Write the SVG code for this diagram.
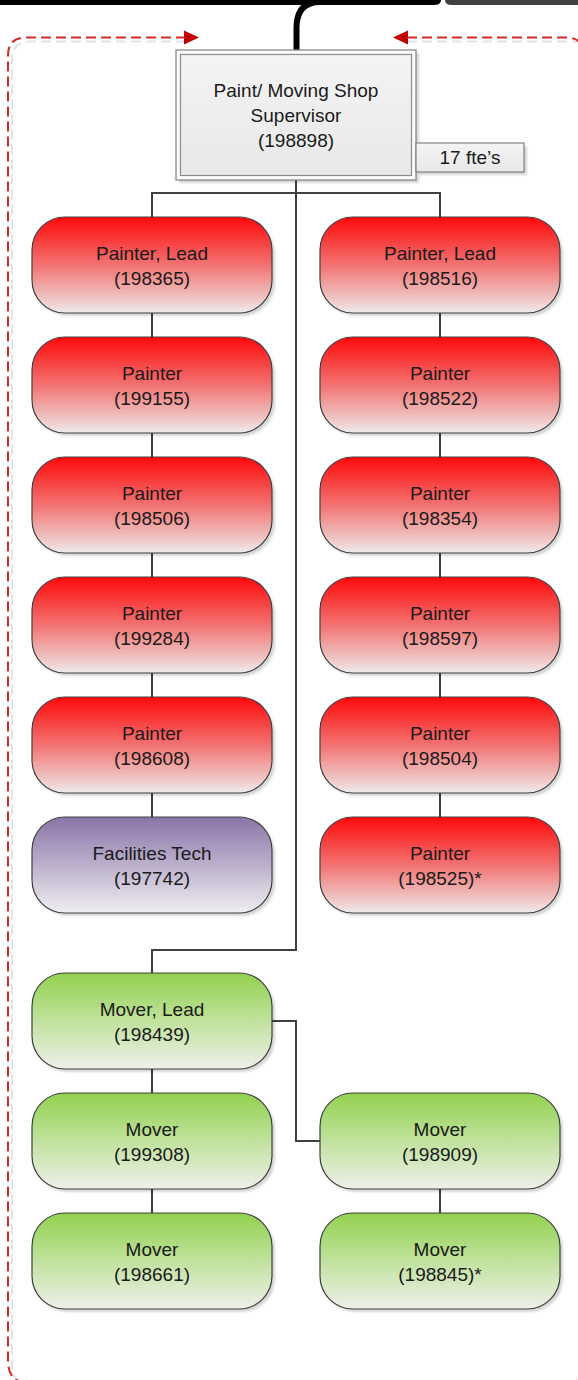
<svg xmlns="http://www.w3.org/2000/svg" width="578" height="1380" viewBox="0 0 578 1380">
  <style>
    .lbl { font-family: "Liberation Sans", Arial, sans-serif; font-size: 19px; fill: #1a1a1a; text-anchor: middle; }
    .box { stroke: #404040; stroke-width: 1.2; }
    .red { fill: url(#gRed); }
    .green { fill: url(#gGreen); }
    .purple { fill: url(#gPurple); }
    .shadow { fill: #000; opacity: 0.16; filter: url(#soft); }
    .conn { fill: none; stroke: #404040; stroke-width: 2; }
    .frame { fill: none; stroke: #d42a2a; stroke-width: 2; stroke-dasharray: 10 5; }
    .frameShadow { fill: none; stroke: #e4e4e4; stroke-width: 2; stroke-dasharray: 10 5; }
  </style>
  <defs>
    <linearGradient id="gRed" x1="0" y1="0" x2="0" y2="1">
      <stop offset="0" stop-color="#ff0a0a"/>
      <stop offset="0.5" stop-color="#f27272"/>
      <stop offset="1" stop-color="#efeaea"/>
    </linearGradient>
    <linearGradient id="gGreen" x1="0" y1="0" x2="0" y2="1">
      <stop offset="0" stop-color="#92d050"/>
      <stop offset="0.5" stop-color="#c0e29c"/>
      <stop offset="1" stop-color="#eef0ec"/>
    </linearGradient>
    <linearGradient id="gPurple" x1="0" y1="0" x2="0" y2="1">
      <stop offset="0" stop-color="#8a74a8"/>
      <stop offset="0.5" stop-color="#bcb0cc"/>
      <stop offset="1" stop-color="#efedf1"/>
    </linearGradient>
    <linearGradient id="gGray" x1="0" y1="0" x2="0" y2="1">
      <stop offset="0" stop-color="#f4f4f4"/>
      <stop offset="1" stop-color="#e8e8e8"/>
    </linearGradient>
    <filter id="soft" x="-10%" y="-10%" width="120%" height="120%">
      <feGaussianBlur stdDeviation="1.2"/>
    </filter>
  </defs>

  <!-- incoming line from the level above -->
  <g id="top-bar">
    <path d="M0 0 H441 Q441 5 434 5 H0 Z" fill="#000"/>
    <path d="M445 0 H578 V5 H452 Q445 5 445 0 Z" fill="#404040"/>
    <path d="M330 2 H320 Q296.5 2 296.5 28 V51" fill="none" stroke="#000" stroke-width="6" stroke-linecap="round"/>
  </g>

  <!-- dashed boundary with arrows -->
  <g id="boundary">
    <path class="frameShadow" d="M186 41.5 H30 Q12 41.5 12 59.5 V1365 Q12 1386.5 34 1386.5 H570"/>
    <path class="frameShadow" d="M407 41.5 H570 Q588 41.5 588 59.5 V1386"/>
    <path class="frame" d="M186 37.5 H26 Q8 37.5 8 55.5 V1361 Q8 1383 30 1383 H566"/>
    <path class="frame" d="M407 37.5 H566 Q584 37.5 584 55.5 V1365 Q584 1383 566 1383"/>
    <polygon points="184,30.5 199,37.5 184,44.5" fill="#c00000"/>
    <polygon points="408,30.5 393,37.5 408,44.5" fill="#c00000"/>
  </g>

  <!-- reporting lines -->
  <g id="connectors">
    <path class="conn" d="M296 180 V950 H152 V973"/>
    <path class="conn" d="M152 217 V193 H440 V217"/>
    <path class="conn" d="M152 313 V337 M152 433 V457 M152 553 V577 M152 673 V697 M152 793 V817"/>
    <path class="conn" d="M440 313 V337 M440 433 V457 M440 553 V577 M440 673 V697 M440 793 V817"/>
    <path class="conn" d="M152 1069 V1093 M152 1189 V1213"/>
    <path class="conn" d="M272 1021 H296 V1141 H320"/>
    <path class="conn" d="M440 1189 V1213"/>
  </g>

  <!-- supervisor -->
  <g id="supervisor">
    <rect class="shadow" x="179" y="53" width="240" height="130"/>
    <rect x="176" y="50" width="240" height="130" fill="#fafafa" stroke="#808080" stroke-width="1.2"/>
    <rect x="180.5" y="54.5" width="231" height="121" fill="url(#gGray)" stroke="#8c8c8c" stroke-width="1.2"/>
    <text class="lbl" x="296" y="97">Paint/ Moving Shop</text>
    <text class="lbl" x="296" y="122">Supervisor</text>
    <text class="lbl" x="296" y="147">(198898)</text>
  </g>

  <g id="fte-count">
    <rect class="shadow" x="419" y="146" width="108" height="29"/>
    <rect x="416" y="143" width="108" height="29" fill="url(#gGray)" stroke="#808080" stroke-width="1.2"/>
    <text class="lbl" x="470" y="164">17 fte’s</text>
  </g>

  <!-- left column -->
  <g id="n198365">
    <rect class="shadow" x="35" y="220" width="240" height="96" rx="33"/>
    <rect class="box red" x="32" y="217" width="240" height="96" rx="33"/>
    <text class="lbl" x="152" y="260">Painter, Lead</text>
    <text class="lbl" x="152" y="284.5">(198365)</text>
  </g>
  <g id="n199155">
    <rect class="shadow" x="35" y="340" width="240" height="96" rx="33"/>
    <rect class="box red" x="32" y="337" width="240" height="96" rx="33"/>
    <text class="lbl" x="152" y="380">Painter</text>
    <text class="lbl" x="152" y="404.5">(199155)</text>
  </g>
  <g id="n198506">
    <rect class="shadow" x="35" y="460" width="240" height="96" rx="33"/>
    <rect class="box red" x="32" y="457" width="240" height="96" rx="33"/>
    <text class="lbl" x="152" y="500">Painter</text>
    <text class="lbl" x="152" y="524.5">(198506)</text>
  </g>
  <g id="n199284">
    <rect class="shadow" x="35" y="580" width="240" height="96" rx="33"/>
    <rect class="box red" x="32" y="577" width="240" height="96" rx="33"/>
    <text class="lbl" x="152" y="620">Painter</text>
    <text class="lbl" x="152" y="644.5">(199284)</text>
  </g>
  <g id="n198608">
    <rect class="shadow" x="35" y="700" width="240" height="96" rx="33"/>
    <rect class="box red" x="32" y="697" width="240" height="96" rx="33"/>
    <text class="lbl" x="152" y="740">Painter</text>
    <text class="lbl" x="152" y="764.5">(198608)</text>
  </g>
  <g id="n197742">
    <rect class="shadow" x="35" y="820" width="240" height="96" rx="33"/>
    <rect class="box purple" x="32" y="817" width="240" height="96" rx="33"/>
    <text class="lbl" x="152" y="860">Facilities Tech</text>
    <text class="lbl" x="152" y="884.5">(197742)</text>
  </g>
  <g id="n198439">
    <rect class="shadow" x="35" y="976" width="240" height="96" rx="33"/>
    <rect class="box green" x="32" y="973" width="240" height="96" rx="33"/>
    <text class="lbl" x="152" y="1016">Mover, Lead</text>
    <text class="lbl" x="152" y="1040.5">(198439)</text>
  </g>
  <g id="n199308">
    <rect class="shadow" x="35" y="1096" width="240" height="96" rx="33"/>
    <rect class="box green" x="32" y="1093" width="240" height="96" rx="33"/>
    <text class="lbl" x="152" y="1136">Mover</text>
    <text class="lbl" x="152" y="1160.5">(199308)</text>
  </g>
  <g id="n198661">
    <rect class="shadow" x="35" y="1216" width="240" height="96" rx="33"/>
    <rect class="box green" x="32" y="1213" width="240" height="96" rx="33"/>
    <text class="lbl" x="152" y="1256">Mover</text>
    <text class="lbl" x="152" y="1280.5">(198661)</text>
  </g>

  <!-- right column -->
  <g id="n198516">
    <rect class="shadow" x="323" y="220" width="240" height="96" rx="33"/>
    <rect class="box red" x="320" y="217" width="240" height="96" rx="33"/>
    <text class="lbl" x="440" y="260">Painter, Lead</text>
    <text class="lbl" x="440" y="284.5">(198516)</text>
  </g>
  <g id="n198522">
    <rect class="shadow" x="323" y="340" width="240" height="96" rx="33"/>
    <rect class="box red" x="320" y="337" width="240" height="96" rx="33"/>
    <text class="lbl" x="440" y="380">Painter</text>
    <text class="lbl" x="440" y="404.5">(198522)</text>
  </g>
  <g id="n198354">
    <rect class="shadow" x="323" y="460" width="240" height="96" rx="33"/>
    <rect class="box red" x="320" y="457" width="240" height="96" rx="33"/>
    <text class="lbl" x="440" y="500">Painter</text>
    <text class="lbl" x="440" y="524.5">(198354)</text>
  </g>
  <g id="n198597">
    <rect class="shadow" x="323" y="580" width="240" height="96" rx="33"/>
    <rect class="box red" x="320" y="577" width="240" height="96" rx="33"/>
    <text class="lbl" x="440" y="620">Painter</text>
    <text class="lbl" x="440" y="644.5">(198597)</text>
  </g>
  <g id="n198504">
    <rect class="shadow" x="323" y="700" width="240" height="96" rx="33"/>
    <rect class="box red" x="320" y="697" width="240" height="96" rx="33"/>
    <text class="lbl" x="440" y="740">Painter</text>
    <text class="lbl" x="440" y="764.5">(198504)</text>
  </g>
  <g id="n198525">
    <rect class="shadow" x="323" y="820" width="240" height="96" rx="33"/>
    <rect class="box red" x="320" y="817" width="240" height="96" rx="33"/>
    <text class="lbl" x="440" y="860">Painter</text>
    <text class="lbl" x="440" y="884.5">(198525)*</text>
  </g>
  <g id="n198909">
    <rect class="shadow" x="323" y="1096" width="240" height="96" rx="33"/>
    <rect class="box green" x="320" y="1093" width="240" height="96" rx="33"/>
    <text class="lbl" x="440" y="1136">Mover</text>
    <text class="lbl" x="440" y="1160.5">(198909)</text>
  </g>
  <g id="n198845">
    <rect class="shadow" x="323" y="1216" width="240" height="96" rx="33"/>
    <rect class="box green" x="320" y="1213" width="240" height="96" rx="33"/>
    <text class="lbl" x="440" y="1256">Mover</text>
    <text class="lbl" x="440" y="1280.5">(198845)*</text>
  </g>
</svg>
